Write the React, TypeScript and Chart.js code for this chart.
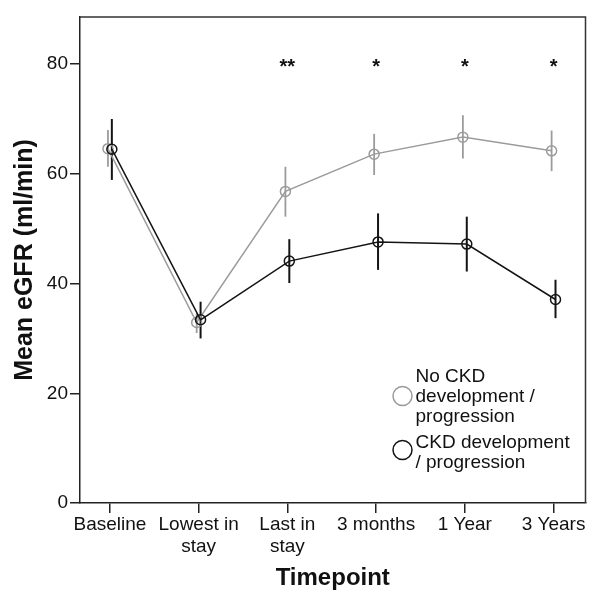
import React, { useEffect, useRef } from "react";
import { Chart, registerables } from "chart.js";

Chart.register(...registerables);

// ---- data ----
const categories: string[][] = [
  ["Baseline"],
  ["Lowest in", "stay"],
  ["Last in", "stay"],
  ["3 months"],
  ["1 Year"],
  ["3 Years"],
];
const noCkdMean = [64.6, 32.9, 56.8, 63.6, 66.7, 64.2];
const noCkdLow = [61.3, 31.0, 52.2, 59.8, 62.8, 60.5];
const noCkdHigh = [68.0, 34.6, 61.3, 67.3, 70.7, 67.9];
const ckdMean = [64.5, 33.4, 44.1, 47.6, 47.2, 37.1];
const ckdLow = [58.9, 30.0, 40.1, 42.5, 42.2, 33.7];
const ckdHigh = [70.0, 36.7, 48.1, 52.8, 52.2, 40.7];
const significance = ["", "", "**", "*", "*", "*"];
const significanceLevel = 80;
const yTicks = [0, 20, 40, 60, 80];
const noCkdLabel = ["No CKD", "development /", "progression"];
const ckdLabel = ["CKD development", "/ progression"];

const FONT = "'Liberation Sans', Arial, Helvetica, sans-serif";
const GRAY = "#9b9b9b";
const BLACK = "#141414";
const DODGE = 0.022;

const errorBarPlugin = {
  id: "errorBars",
  beforeDatasetsDraw(chart: any) {
    const { ctx } = chart;
    const ys = chart.scales.y;
    const xs = chart.scales.x;
    chart.data.datasets.forEach((ds: any) => {
      ctx.save();
      ctx.strokeStyle = ds.borderColor;
      ctx.lineWidth = ds.errWidth;
      ds.data.forEach((p: any, i: number) => {
        const x = xs.getPixelForValue(p.x);
        ctx.beginPath();
        ctx.moveTo(x, ys.getPixelForValue(ds.errLow[i]));
        ctx.lineTo(x, ys.getPixelForValue(ds.errHigh[i]));
        ctx.stroke();
      });
      ctx.restore();
    });
  },
};

const decorPlugin = {
  id: "decor",
  afterDraw(chart: any) {
    const { ctx, chartArea } = chart;
    const xs = chart.scales.x;
    const ys = chart.scales.y;
    ctx.save();
    // frame
    ctx.strokeStyle = "#333";
    ctx.lineWidth = 1.5;
    ctx.beginPath();
    ctx.moveTo(chartArea.left, chartArea.top);
    ctx.lineTo(chartArea.right, chartArea.top);
    ctx.lineTo(chartArea.right, chartArea.bottom);
    ctx.stroke();

    // significance stars
    ctx.fillStyle = "#111";
    ctx.font = `bold 20px ${FONT}`;
    ctx.textAlign = "center";
    ctx.textBaseline = "alphabetic";
    significance.forEach((s, i) => {
      if (!s) return;
      ctx.fillText(s, xs.getPixelForValue(i), ys.getPixelForValue(significanceLevel) + 9);
    });

    // legend
    const items = [
      { color: GRAY, lines: noCkdLabel, cy: chartArea.bottom - 107, dy: -19 },
      { color: BLACK, lines: ckdLabel, cy: chartArea.bottom - 53, dy: -7 },
    ];
    ctx.font = `19px ${FONT}`;
    ctx.textAlign = "left";
    ctx.textBaseline = "middle";
    items.forEach((it) => {
      const cx = chartArea.right - 183;
      ctx.strokeStyle = it.color;
      ctx.lineWidth = 1.5;
      ctx.beginPath();
      ctx.arc(cx, it.cy, 9.5, 0, Math.PI * 2);
      ctx.stroke();
      ctx.fillStyle = "#111";
      it.lines.forEach((t, k) => {
        ctx.fillText(t, chartArea.right - 170, it.cy + it.dy + k * 20);
      });
    });
    ctx.restore();
  },
};

export default function App() {
  const ref = useRef<HTMLCanvasElement | null>(null);
  useEffect(() => {
    if (!ref.current) return;
    const chart = new Chart(ref.current, {
      type: "line",
      data: {
        datasets: [
          {
            label: ckdLabel.join(" "),
            data: ckdMean.map((y, i) => ({ x: i + DODGE, y })),
            borderColor: BLACK,
            borderWidth: 1.5,
            pointRadius: 5,
            pointBorderColor: BLACK,
            pointBackgroundColor: "rgba(0,0,0,0)",
            pointBorderWidth: 1.5,
            order: 0,
            errLow: ckdLow,
            errHigh: ckdHigh,
            errWidth: 2,
          } as any,
          {
            label: noCkdLabel.join(" "),
            data: noCkdMean.map((y, i) => ({ x: i - DODGE, y })),
            borderColor: GRAY,
            borderWidth: 1.5,
            pointRadius: 5,
            pointBorderColor: GRAY,
            pointBackgroundColor: "rgba(0,0,0,0)",
            pointBorderWidth: 1.5,
            order: 1,
            errLow: noCkdLow,
            errHigh: noCkdHigh,
            errWidth: 1.8,
          } as any,
        ],
      },
      options: {
        animation: false,
        responsive: false,
        layout: { padding: { top: 17, right: 6, left: 0, bottom: 0 } },
        plugins: { legend: { display: false }, tooltip: { enabled: false } },
        scales: {
          x: {
            type: "linear",
            min: -0.337,
            max: 5.36,
            afterBuildTicks: (s: any) => {
              s.ticks = categories.map((_, i) => ({ value: i }));
            },
            afterFit: (s: any) => {
              s.height = 91;
            },
            ticks: {
              callback: (v: any) => categories[v as number],
              font: { family: FONT, size: 19 },
              color: "#111",
              padding: 0,
              maxRotation: 0,
              autoSkip: false,
            },
            grid: {
              display: true,
              drawOnChartArea: false,
              drawTicks: true,
              tickLength: 10,
              color: "#222",
              lineWidth: 1.5,
            },
            border: { display: true, color: "#222", width: 1.5 },
            title: {
              display: true,
              text: "Timepoint",
              font: { family: FONT, size: 24, weight: "bold" },
              color: "#111",
              padding: { top: 0, bottom: 1 },
            },
          },
          y: {
            type: "linear",
            min: 0,
            max: 88.6,
            afterBuildTicks: (s: any) => {
              s.ticks = yTicks.map((v) => ({ value: v }));
            },
            afterFit: (s: any) => {
              s.width = 80;
            },
            ticks: {
              font: { family: FONT, size: 19 },
              color: "#111",
              padding: 2,
            },
            grid: {
              display: true,
              drawOnChartArea: false,
              drawTicks: true,
              tickLength: 10,
              color: "#222",
              lineWidth: 1.5,
            },
            border: { display: true, color: "#222", width: 1.5 },
            title: {
              display: true,
              text: "Mean eGFR (ml/min)",
              font: { family: FONT, size: 25, weight: "bold" },
              color: "#111",
              padding: { top: 10, bottom: 0 },
            },
          },
        },
      },
      plugins: [errorBarPlugin, decorPlugin],
    });
    return () => chart.destroy();
  }, []);

  return (
    <div style={{ position: "fixed", left: 0, top: 0, width: 592, height: 594, background: "#fff" }}>
      <canvas ref={ref} width={592} height={594} style={{ display: "block" }} />
    </div>
  );
}
